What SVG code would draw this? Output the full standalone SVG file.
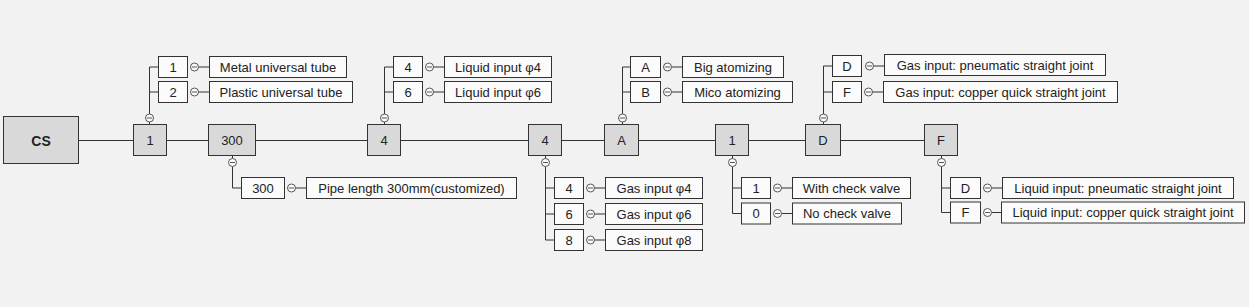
<svg xmlns="http://www.w3.org/2000/svg" xmlns:xlink="http://www.w3.org/1999/xlink" width="1249" height="307" viewBox="0 0 1249 307">
<style>
.bg{fill:#f2f2f2}
.main{fill:#d9d9d9;stroke:#333;stroke-width:1}
.sub{fill:#fbfbfb;stroke:#333;stroke-width:1}
.ln{stroke:#333;stroke-width:1;fill:none}
.kc{fill:#fbfbfb;stroke:#555;stroke-width:1}
.km{stroke:#555;stroke-width:1}
text{font-family:"Liberation Sans",Arial,sans-serif;font-size:13px;fill:#222;text-anchor:middle;dominant-baseline:central}
.cs{font-weight:bold;font-size:14px}
</style>
<defs>
<g id="knob"><circle class="kc" r="4"/><line class="km" x1="-2.5" y1="0" x2="2.5" y2="0"/></g>
</defs>
<rect class="bg" x="0" y="0" width="1249" height="307"/>
<g id="connectors">
<line class="ln" x1="79" y1="140.5" x2="924" y2="140.5"/>
<!-- top branch of 1 -->
<line class="ln" x1="149.5" y1="122" x2="149.5" y2="124.5"/>
<polyline class="ln" points="149.5,114 149.5,67 158.5,67"/>
<line class="ln" x1="149.5" y1="92" x2="158.5" y2="92"/>
<line class="ln" x1="198.5" y1="67" x2="209.5" y2="67"/>
<line class="ln" x1="198.5" y1="92" x2="209.5" y2="92"/>
<use xlink:href="#knob" x="149.5" y="118"/>
<use xlink:href="#knob" x="194.5" y="67"/>
<use xlink:href="#knob" x="194.5" y="92"/>
<!-- bottom branch of 300 -->
<line class="ln" x1="232.5" y1="155.5" x2="232.5" y2="158.5"/>
<polyline class="ln" points="232.5,166.5 232.5,188 241.5,188"/>
<line class="ln" x1="295.5" y1="188" x2="306.5" y2="188"/>
<use xlink:href="#knob" x="232.5" y="162.5"/>
<use xlink:href="#knob" x="291.5" y="188"/>
<!-- top branch of 4 -->
<line class="ln" x1="384.5" y1="122" x2="384.5" y2="124.5"/>
<polyline class="ln" points="384.5,114 384.5,67 393.5,67"/>
<line class="ln" x1="384.5" y1="92" x2="393.5" y2="92"/>
<line class="ln" x1="433.5" y1="67" x2="444.5" y2="67"/>
<line class="ln" x1="433.5" y1="92" x2="444.5" y2="92"/>
<use xlink:href="#knob" x="384.5" y="118"/>
<use xlink:href="#knob" x="429.5" y="67"/>
<use xlink:href="#knob" x="429.5" y="92"/>
<!-- bottom branch of second 4 -->
<line class="ln" x1="545.5" y1="155.5" x2="545.5" y2="158.5"/>
<polyline class="ln" points="545.5,166.5 545.5,240 554.5,240"/>
<line class="ln" x1="545.5" y1="188" x2="554.5" y2="188"/>
<line class="ln" x1="545.5" y1="214" x2="554.5" y2="214"/>
<line class="ln" x1="594.5" y1="188" x2="605.5" y2="188"/>
<line class="ln" x1="594.5" y1="214" x2="605.5" y2="214"/>
<line class="ln" x1="594.5" y1="240" x2="605.5" y2="240"/>
<use xlink:href="#knob" x="545.5" y="162.5"/>
<use xlink:href="#knob" x="590.5" y="188"/>
<use xlink:href="#knob" x="590.5" y="214"/>
<use xlink:href="#knob" x="590.5" y="240"/>
<!-- top branch of A -->
<line class="ln" x1="622.5" y1="122" x2="622.5" y2="124.5"/>
<polyline class="ln" points="622.5,114 622.5,67 630.5,67"/>
<line class="ln" x1="622.5" y1="92" x2="630.5" y2="92"/>
<line class="ln" x1="671.5" y1="67" x2="682.5" y2="67"/>
<line class="ln" x1="671.5" y1="92" x2="682.5" y2="92"/>
<use xlink:href="#knob" x="622.5" y="118"/>
<use xlink:href="#knob" x="667.5" y="67"/>
<use xlink:href="#knob" x="667.5" y="92"/>
<!-- bottom branch of second 1 -->
<line class="ln" x1="732.5" y1="155.5" x2="732.5" y2="158.5"/>
<polyline class="ln" points="732.5,166.5 732.5,213.5 741.5,213.5"/>
<line class="ln" x1="732.5" y1="188" x2="741.5" y2="188"/>
<line class="ln" x1="781.5" y1="188" x2="792.5" y2="188"/>
<line class="ln" x1="781.5" y1="213.5" x2="792.5" y2="213.5"/>
<use xlink:href="#knob" x="732.5" y="162.5"/>
<use xlink:href="#knob" x="777.5" y="188"/>
<use xlink:href="#knob" x="777.5" y="213.5"/>
<!-- top branch of D -->
<line class="ln" x1="823.5" y1="122" x2="823.5" y2="124.5"/>
<polyline class="ln" points="823.5,114 823.5,66 832.5,66"/>
<line class="ln" x1="823.5" y1="92" x2="832.5" y2="92"/>
<line class="ln" x1="873.5" y1="66" x2="884.5" y2="66"/>
<line class="ln" x1="872.5" y1="92" x2="883.5" y2="92"/>
<use xlink:href="#knob" x="823.5" y="118"/>
<use xlink:href="#knob" x="869.5" y="66"/>
<use xlink:href="#knob" x="868.5" y="92"/>
<!-- bottom branch of F -->
<line class="ln" x1="941.5" y1="155.5" x2="941.5" y2="158.5"/>
<polyline class="ln" points="941.5,166.5 941.5,212.5 950.5,212.5"/>
<line class="ln" x1="941.5" y1="188" x2="950.5" y2="188"/>
<line class="ln" x1="991.5" y1="188" x2="1002.5" y2="188"/>
<line class="ln" x1="991.5" y1="212.5" x2="1002.5" y2="212.5"/>
<use xlink:href="#knob" x="941.5" y="162.5"/>
<use xlink:href="#knob" x="987.5" y="188"/>
<use xlink:href="#knob" x="987.5" y="212.5"/>
</g>
<g id="node-cs"><rect class="main" x="3.5" y="116.5" width="75" height="47"/><text class="cs" x="41" y="140.5">CS</text></g>
<g id="node-1"><rect class="main" x="133.5" y="124.5" width="33" height="31"/><text x="150" y="140.5">1</text></g>
<g id="node-300"><rect class="main" x="208.5" y="124.5" width="47" height="31"/><text x="232" y="140.5">300</text></g>
<g id="node-4a"><rect class="main" x="367.5" y="124.5" width="33" height="31"/><text x="384" y="140.5">4</text></g>
<g id="node-4b"><rect class="main" x="528.5" y="124.5" width="33" height="31"/><text x="545" y="140.5">4</text></g>
<g id="node-A"><rect class="main" x="604.5" y="124.5" width="34" height="31"/><text x="621.5" y="140.5">A</text></g>
<g id="node-1b"><rect class="main" x="715.5" y="124.5" width="33" height="31"/><text x="732" y="140.5">1</text></g>
<g id="node-D"><rect class="main" x="805.5" y="124.5" width="35" height="31"/><text x="823" y="140.5">D</text></g>
<g id="node-F"><rect class="main" x="924.5" y="124.5" width="33" height="31"/><text x="941" y="140.5">F</text></g>

<g id="opt-1-1"><rect class="sub" x="158.5" y="56.5" width="29" height="21"/><text x="173" y="67">1</text></g>
<g id="lbl-1-1"><rect class="sub" x="209.5" y="56.5" width="137" height="21"/><text x="278" y="67">Metal universal tube</text></g>
<g id="opt-1-2"><rect class="sub" x="158.5" y="81.5" width="29" height="21"/><text x="173" y="92">2</text></g>
<g id="lbl-1-2"><rect class="sub" x="209.5" y="81.5" width="143" height="21"/><text x="281" y="92">Plastic universal tube</text></g>

<g id="opt-300"><rect class="sub" x="241.5" y="177.5" width="43" height="21"/><text x="263" y="188">300</text></g>
<g id="lbl-300"><rect class="sub" x="306.5" y="177.5" width="210" height="21"/><text x="411.5" y="188">Pipe length 300mm(customized)</text></g>

<g id="opt-4-4"><rect class="sub" x="393.5" y="56.5" width="29" height="21"/><text x="408" y="67">4</text></g>
<g id="lbl-4-4"><rect class="sub" x="444.5" y="56.5" width="107" height="21"/><text x="498" y="67">Liquid input φ4</text></g>
<g id="opt-4-6"><rect class="sub" x="393.5" y="81.5" width="29" height="21"/><text x="408" y="92">6</text></g>
<g id="lbl-4-6"><rect class="sub" x="444.5" y="81.5" width="107" height="21"/><text x="498" y="92">Liquid input φ6</text></g>

<g id="opt-g4"><rect class="sub" x="554.5" y="177.5" width="29" height="21"/><text x="569" y="188">4</text></g>
<g id="lbl-g4"><rect class="sub" x="605.5" y="177.5" width="97" height="21"/><text x="654" y="188">Gas input φ4</text></g>
<g id="opt-g6"><rect class="sub" x="554.5" y="203.5" width="29" height="21"/><text x="569" y="214">6</text></g>
<g id="lbl-g6"><rect class="sub" x="605.5" y="203.5" width="97" height="21"/><text x="654" y="214">Gas input φ6</text></g>
<g id="opt-g8"><rect class="sub" x="554.5" y="229.5" width="29" height="21"/><text x="569" y="240">8</text></g>
<g id="lbl-g8"><rect class="sub" x="605.5" y="229.5" width="97" height="21"/><text x="654" y="240">Gas input φ8</text></g>

<g id="opt-A"><rect class="sub" x="630.5" y="56.5" width="30" height="21"/><text x="645.5" y="67">A</text></g>
<g id="lbl-A"><rect class="sub" x="682.5" y="56.5" width="101" height="21"/><text x="733" y="67">Big atomizing</text></g>
<g id="opt-B"><rect class="sub" x="630.5" y="81.5" width="30" height="21"/><text x="645.5" y="92">B</text></g>
<g id="lbl-B"><rect class="sub" x="682.5" y="81.5" width="110" height="21"/><text x="737.5" y="92">Mico atomizing</text></g>

<g id="opt-cv1"><rect class="sub" x="741.5" y="177.5" width="29" height="21"/><text x="756" y="188">1</text></g>
<g id="lbl-cv1"><rect class="sub" x="792.5" y="177.5" width="118" height="21"/><text x="851.5" y="188">With check valve</text></g>
<g id="opt-cv0"><rect class="sub" x="741.5" y="203" width="29" height="21"/><text x="756" y="213.5">0</text></g>
<g id="lbl-cv0"><rect class="sub" x="792.5" y="203" width="109" height="21"/><text x="847" y="213.5">No check valve</text></g>

<g id="opt-gD"><rect class="sub" x="832.5" y="55.5" width="29" height="21"/><text x="847" y="66">D</text></g>
<g id="lbl-gD"><rect class="sub" x="884.5" y="54.5" width="221" height="21"/><text x="995" y="65">Gas input: pneumatic straight joint</text></g>
<g id="opt-gF"><rect class="sub" x="832.5" y="81.5" width="29" height="21"/><text x="847" y="92">F</text></g>
<g id="lbl-gF"><rect class="sub" x="883.5" y="81.5" width="234" height="21"/><text x="1000.5" y="92">Gas input: copper quick straight joint</text></g>

<g id="opt-lD"><rect class="sub" x="950.5" y="177.5" width="30" height="21"/><text x="965.5" y="188">D</text></g>
<g id="lbl-lD"><rect class="sub" x="1002.5" y="177.5" width="231" height="21"/><text x="1118" y="188">Liquid input: pneumatic straight joint</text></g>
<g id="opt-lF"><rect class="sub" x="950.5" y="202" width="30" height="21"/><text x="965.5" y="212.5">F</text></g>
<g id="lbl-lF"><rect class="sub" x="1001.5" y="202" width="243" height="21"/><text x="1123" y="212.5">Liquid input: copper quick straight joint</text></g>
</svg>
